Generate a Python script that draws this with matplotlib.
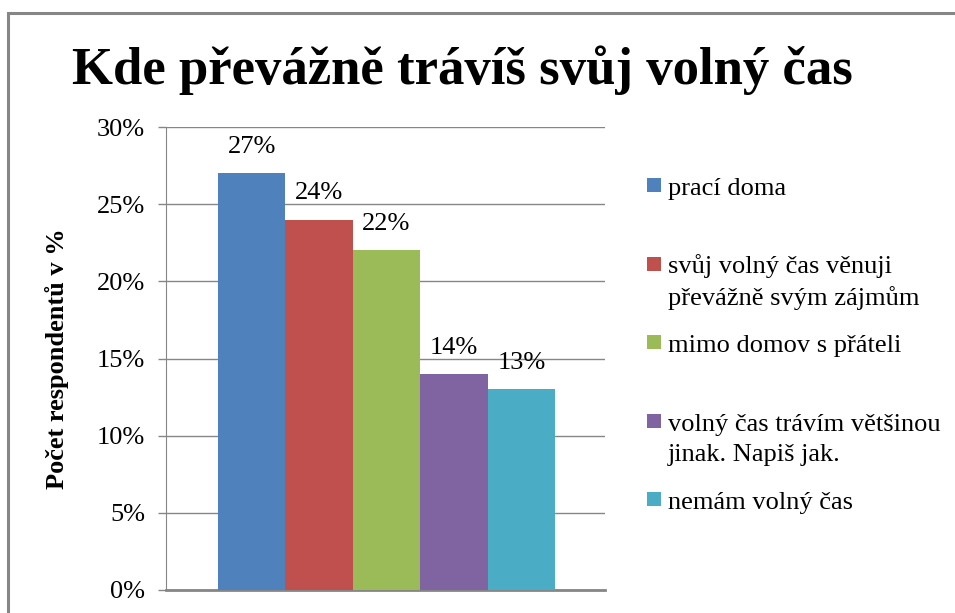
import numpy as np
import matplotlib
matplotlib.use("Agg")
import matplotlib.pyplot as plt
from matplotlib.patches import Rectangle

# --- data ---
labels = ["prací doma",
          "svůj volný čas věnuji\npřevážně svým zájmům",
          "mimo domov s přáteli",
          "volný čas trávím většinou\njinak. Napiš jak.",
          "nemám volný čas"]
values = [27, 24, 22, 14, 13]
value_labels = ["27%", "24%", "22%", "14%", "13%"]
yticks = [0, 5, 10, 15, 20, 25, 30]
ytick_labels = ["0%", "5%", "10%", "15%", "20%", "25%", "30%"]
colors = ["#4F81BD", "#C0504D", "#9BBB59", "#8064A2", "#4BACC6"]

plt.rcParams["font.family"] = ["Liberation Serif", "DejaVu Serif"]

fig = plt.figure(figsize=(9.55, 6.13), dpi=100)

# gray frame round the chart (runs off right and bottom edge)
fig.patches.append(Rectangle((8 / 955, -0.02), 1.05, 1 - 13 / 613 + 0.02,
                             transform=fig.transFigure, fill=False,
                             edgecolor="#868686", linewidth=2.2))

ax = fig.add_axes([166 / 955, 23 / 613, 439 / 955, 463 / 613])

x = np.arange(len(values))
bars = ax.bar(x, values, width=1.0, color=colors, zorder=3)

for b, lab in zip(bars, value_labels):
    ax.annotate(lab, (b.get_x() + b.get_width() / 2, b.get_height()),
                xytext=(0, 14.5), textcoords="offset points",
                ha="center", va="baseline", fontsize=19)

ax.set_xlim(-1.27, 5.24)
ax.set_ylim(0, 30)
ax.set_yticks(yticks)
ax.set_yticklabels(ytick_labels, fontsize=19)
ax.set_xticks([])
ax.yaxis.grid(True, color="#868686", linewidth=1)
ax.set_axisbelow(True)
ax.tick_params(axis="y", length=6, color="#868686", pad=9, width=1)

for s in ["top", "right"]:
    ax.spines[s].set_visible(False)
ax.spines["left"].set_color("#868686")
ax.spines["bottom"].set_color("#868686")
ax.spines["bottom"].set_linewidth(2)

ax.set_ylabel("Počet respondentů v %", fontsize=19, fontweight="bold", labelpad=20)

fig.text(462 / 955, 1 - 70 / 613, "Kde převážně trávíš svůj volný čas",
         ha="center", va="center", fontsize=38, fontweight="bold")

# legend, Excel style: equal slots, marker at first line
first_base = 195
slot = 78.5
line_px = 31
for i, (lab, col) in enumerate(zip(labels, colors)):
    yb = first_base + i * slot
    fig.patches.append(Rectangle((647 / 955, 1 - (yb - 3) / 613), 14 / 955, 14 / 613,
                                 transform=fig.transFigure, facecolor=col,
                                 edgecolor="none"))
    for j, line in enumerate(lab.split("\n")):
        fig.text(668 / 955, 1 - (yb + j * line_px) / 613, line,
                 ha="left", va="baseline", fontsize=19)

fig.savefig("out.png", dpi=100)
